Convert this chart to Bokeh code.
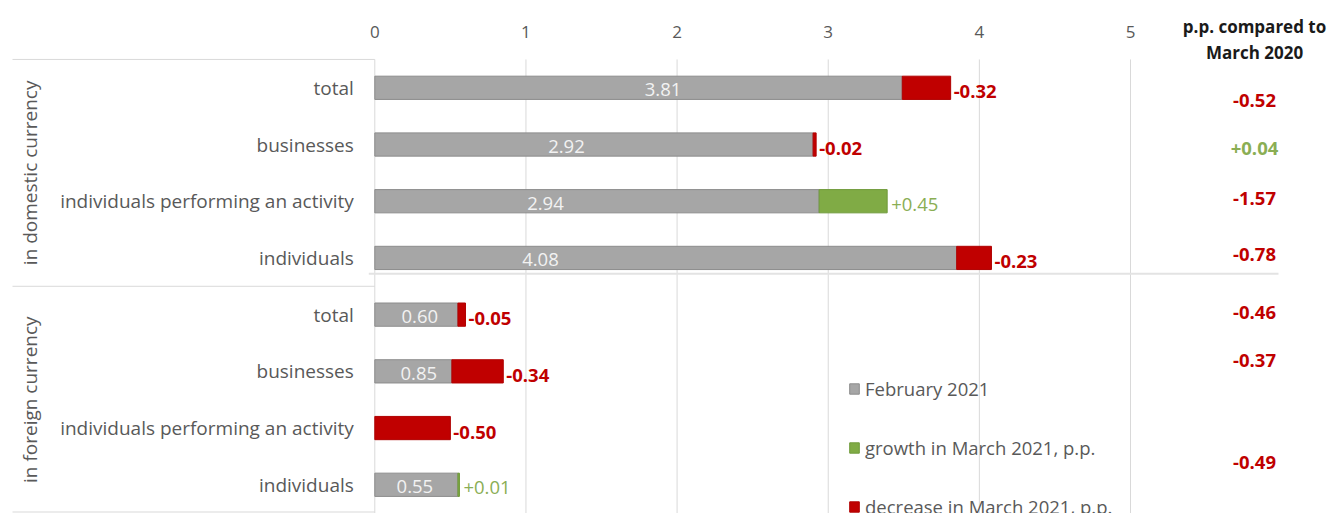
import math
from bokeh.plotting import figure
from bokeh.models import ColumnDataSource, Range1d, Legend, LegendItem
from bokeh.core.properties import value
from bokeh.embed import file_html
from bokeh.resources import INLINE

# ---------------- data ----------------
groups = ["in domestic currency", "in foreign currency"]
categories = ["total", "businesses", "individuals performing an activity", "individuals",
              "total", "businesses", "individuals performing an activity", "individuals"]
group_of_row = [0, 0, 0, 0, 1, 1, 1, 1]
feb_2021 = [3.81, 2.92, 2.94, 4.08, 0.60, 0.85, 0.50, 0.55]
change_march_2021 = [-0.32, -0.02, 0.45, -0.23, -0.05, -0.34, -0.50, 0.01]
pp_vs_march_2020 = [-0.52, 0.04, -1.57, -0.78, -0.46, -0.37, None, -0.49]
x_ticks = [0, 1, 2, 3, 4, 5]
series_names = ["February 2021", "growth in March 2021, p.p.", "decrease in March 2021, p.p."]
header_lines = ["p.p. compared to", "March 2020"]

# label placement (styling only)
feb_label_x = [1.907, 1.268, 1.129, 1.096, 0.298, 0.291, None, 0.265]
pp_label_dy = [13, 4, -3, -3, -2, -11, 0, -22]   # px
header_dy = [-33, -6.5]                            # px above the top rule

# ---------------- style ----------------
FONT = "Open Sans"
GREY_TXT = "#595959"
RED = "#c00000"
GREEN = "#80ab45"
GREEN_TXT = "#8aae54"
BAR_GREY = "#a6a6a6"
BAR_EDGE = "#8c8c8c"
LINE = "#d9d9d9"

W, H = 1330, 513
px_per_unit = 151.14
zero_px = 374.3
x_start = -zero_px / px_per_unit
x_end = (W - zero_px) / px_per_unit
row_px = 56.71
row0_px = 87.3
y_top = -row0_px / row_px
y_bottom = (H - row0_px) / row_px
rule_top = -0.5
BAR_H = 0.41

rows = list(range(len(categories)))

# ---------------- derived sources ----------------
grey_src = dict(y=[], left=[], right=[])
green_src = dict(y=[], left=[], right=[])
red_src = dict(y=[], left=[], right=[])
dec_lbl = dict(y=[], x=[], text=[])
inc_lbl = dict(y=[], x=[], text=[])
feb_src = dict(y=[], x=[], text=[])
for r, f, c, lx in zip(rows, feb_2021, change_march_2021, feb_label_x):
    lo = min(f, f + c)
    hi = max(f, f + c)
    if lo > 0:
        grey_src["y"].append(r); grey_src["left"].append(0); grey_src["right"].append(lo)
    if c > 0:
        green_src["y"].append(r); green_src["left"].append(f); green_src["right"].append(f + c)
        tgt = inc_lbl
    else:
        red_src["y"].append(r); red_src["left"].append(f + c); red_src["right"].append(f)
        tgt = dec_lbl
    tgt["y"].append(r); tgt["x"].append(hi); tgt["text"].append(f"{c:+.2f}")
    if lx is not None and lo > 0:
        feb_src["y"].append(r); feb_src["x"].append(lx); feb_src["text"].append(f"{f:.2f}")

pp_src = dict(y=[], text=[], color=[], dy=[])
for r, v, dy in zip(rows, pp_vs_march_2020, pp_label_dy):
    if v is None:
        continue
    pp_src["y"].append(r)
    pp_src["text"].append(f"{v:+.2f}")
    pp_src["color"].append(GREEN_TXT if v > 0 else RED)
    pp_src["dy"].append(dy)

# ---------------- figure ----------------
p = figure(width=W, height=H, output_backend="svg", toolbar_location=None,
           x_range=Range1d(x_start, x_end), y_range=Range1d(y_bottom, y_top),
           x_axis_location=None, y_axis_location=None,
           min_border=0)
p.outline_line_color = None
p.grid.visible = False
p.background_fill_color = "white"
p.border_fill_color = "white"

# value axis: grid lines and tick labels
p.segment(x0=x_ticks, x1=x_ticks, y0=[rule_top] * len(x_ticks), y1=[y_bottom] * len(x_ticks),
          line_color=LINE, line_width=1)
p.text(x=x_ticks, y=[rule_top] * len(x_ticks), text=[str(t) for t in x_ticks], y_offset=-27,
       text_align="center", text_baseline="middle", text_color=GREY_TXT,
       text_font=value(FONT), text_font_size="17px")

# decorative frame lines of the category block
left_edge = x_start + 12 / px_per_unit
box_bottom = y_bottom - 1.5 / row_px
p.segment(x0=[left_edge] * 3, x1=[0] * 3, y0=[rule_top, 3.5, box_bottom], y1=[rule_top, 3.5, box_bottom],
          line_color=LINE, line_width=1)
p.segment(x0=[-6 / px_per_unit], x1=[(1278 - zero_px) / px_per_unit], y0=[3.28], y1=[3.28],
          line_color="#e3e3e3", line_width=2)

# bars
r_grey = p.hbar(y="y", left="left", right="right", height=BAR_H, source=ColumnDataSource(grey_src),
                fill_color=BAR_GREY, line_color=BAR_EDGE, line_width=1)
r_green = p.hbar(y="y", left="left", right="right", height=BAR_H, source=ColumnDataSource(green_src),
                 fill_color=GREEN, line_color="#6f9a3a", line_width=1)
r_red = p.hbar(y="y", left="left", right="right", height=BAR_H, source=ColumnDataSource(red_src),
               fill_color=RED, line_color="#b00000", line_width=1)

# labels inside grey bars
p.text(x="x", y="y", text="text", source=ColumnDataSource(feb_src), text_align="center",
       text_baseline="middle", y_offset=2, text_color="#f2f2f2", text_font=value(FONT),
       text_font_size="18.5px")

# change labels
p.text(x="x", y="y", text="text", source=ColumnDataSource(dec_lbl), text_align="left",
       text_baseline="middle", x_offset=3, y_offset=4, text_color=RED, text_font=value(FONT),
       text_font_size="18.5px", text_font_style="bold")
p.text(x="x", y="y", text="text", source=ColumnDataSource(inc_lbl), text_align="left",
       text_baseline="middle", x_offset=4, y_offset=3, text_color=GREEN_TXT, text_font=value(FONT),
       text_font_size="18.5px")

# category labels
p.text(x=[0] * len(rows), y=rows, text=categories, text_align="right", text_baseline="middle",
       x_offset=-21, text_color=GREY_TXT, text_font=value(FONT), text_font_size="19px")

# group labels
gy = [sum(r for r, g in zip(rows, group_of_row) if g == i) / group_of_row.count(i) for i in range(len(groups))]
p.text(x=[x_start] * len(groups), y=gy, text=groups, angle=math.pi / 2, x_offset=29,
       text_align="center", text_baseline="middle", text_color=GREY_TXT,
       text_font=value(FONT), text_font_size="19px")

# right column: p.p. compared to March 2020
RIGHT_X = (1254 - zero_px) / px_per_unit
p.text(x=RIGHT_X, y="y", text="text", y_offset="dy", source=ColumnDataSource(pp_src),
       text_align="center", text_baseline="middle", text_color="color",
       text_font=value(FONT), text_font_size="18.5px", text_font_style="bold")
p.text(x=[RIGHT_X] * len(header_lines), y=[rule_top] * len(header_lines), text=header_lines,
       y_offset=header_dy, text_align="center", text_baseline="middle", text_color="#1a1a1a",
       text_font=value(FONT), text_font_size="17px", text_font_style="bold")

legend = Legend(items=[LegendItem(label=series_names[0], renderers=[r_grey]),
                       LegendItem(label=series_names[1], renderers=[r_green]),
                       LegendItem(label=series_names[2], renderers=[r_red])],
                location=(848, -6), orientation="vertical", spacing=34, padding=0, margin=0,
                glyph_width=12, glyph_height=13, label_standoff=5,
                label_text_font=FONT, label_text_font_size="18.5px", label_text_color=GREY_TXT,
                background_fill_alpha=0, border_line_color=None)
p.add_layout(legend)

open("out.html", "w").write(file_html(p, INLINE))
